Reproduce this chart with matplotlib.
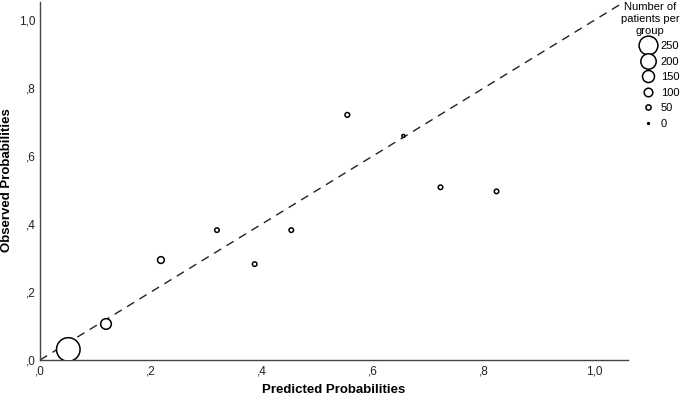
import numpy as np
import matplotlib.pyplot as plt
from matplotlib.lines import Line2D
from matplotlib.ticker import FixedLocator, FixedFormatter

plt.rcParams['font.family'] = ['Liberation Sans', 'DejaVu Sans']

# group data
predicted = [0.051, 0.119, 0.218, 0.319, 0.387, 0.453, 0.554, 0.655, 0.722, 0.823]
observed = [0.031, 0.106, 0.294, 0.382, 0.282, 0.382, 0.721, 0.659, 0.508, 0.496]
group_n = [320, 130, 73, 40, 40, 40, 43, 18, 40, 40]

legend_n = [250, 200, 150, 100, 50, 0]
tick_vals = [0.0, 0.2, 0.4, 0.6, 0.8, 1.0]
tick_labels = [',0', ',2', ',4', ',6', ',8', '1,0']


def diam_pt(n):
    # circle diameter grows with group size (px -> pt at 100 dpi)
    return (1.8 + 0.068 * n) * 0.72


fig = plt.figure(figsize=(6.85, 3.97), dpi=100)
ax = fig.add_axes([40 / 685, 37 / 397, 588 / 685, 358 / 397])

ax.plot([0, 1.2], [0, 1.2], color='#222222', lw=1, dashes=(6, 4.5))

sizes = [diam_pt(n) ** 2 for n in group_n]
ax.scatter(predicted, observed, s=sizes, facecolors='white', edgecolors='black',
           linewidths=1.1, zorder=3)

ax.set_xlim(0, 1.06)
ax.set_ylim(0, 1.053)
for a in (ax.xaxis, ax.yaxis):
    a.set_major_locator(FixedLocator(tick_vals))
    a.set_major_formatter(FixedFormatter(tick_labels))
ax.tick_params(length=0, labelsize=8.5, colors='#222222', pad=4)
ax.tick_params(axis='y', pad=3)

for side in ('top', 'right'):
    ax.spines[side].set_visible(False)
for side in ('left', 'bottom'):
    ax.spines[side].set_color('#444444')
    ax.spines[side].set_linewidth(1)

fig.text(334 / 685, 1 - 390 / 397, 'Predicted Probabilities', fontsize=9.5,
         fontweight='bold', ha='center', va='center')
fig.text(7 / 685, 1 - 180 / 397, 'Observed Probabilities', fontsize=9.5,
         fontweight='bold', ha='center', va='center', rotation=90)

# legend title drawn as its own text, entries below it
fig.text(650 / 685, 1 - 2 / 397, 'Number of\npatients per\ngroup', fontsize=8,
         ha='center', va='top', multialignment='center', linespacing=1.22)

handles = [Line2D([], [], linestyle='none', marker='o', markersize=diam_pt(n),
                  markerfacecolor='white', markeredgecolor='black', markeredgewidth=1.1)
           for n in legend_n]
leg = fig.legend(handles, [str(n) for n in legend_n],
                 loc='upper left', bbox_to_anchor=(637 / 685, 1 - 40 / 397), frameon=False,
                 fontsize=8, handlelength=1.7, handletextpad=0.35,
                 labelspacing=0.5, borderaxespad=0, borderpad=0.1)

fig.savefig('out.png', dpi=100)
